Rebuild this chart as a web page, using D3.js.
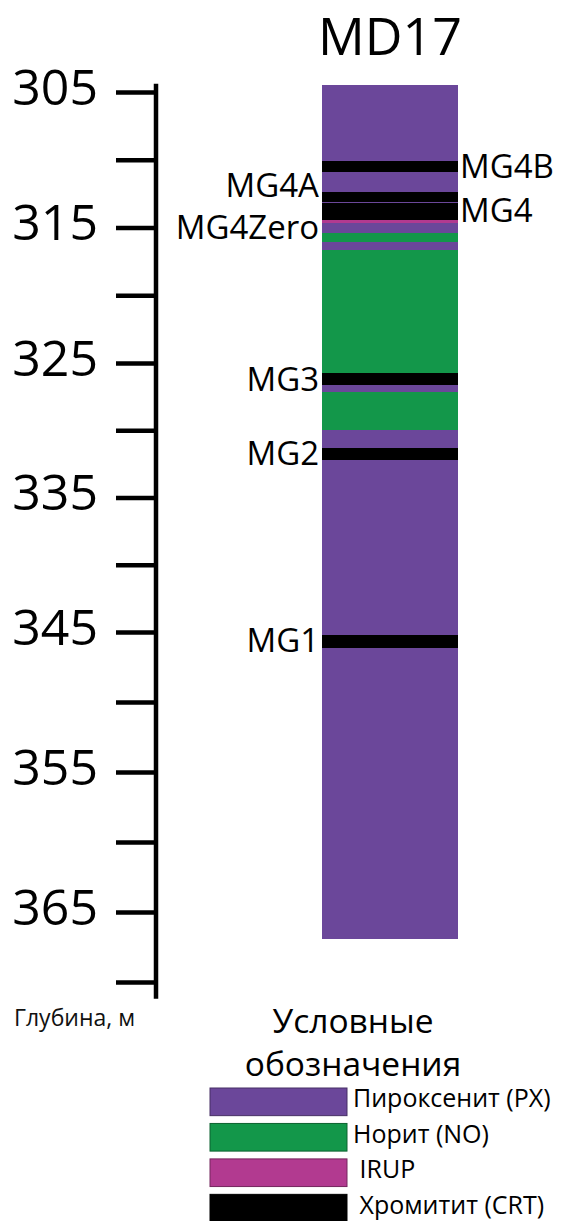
<!DOCTYPE html>
<html>
<head>
<meta charset="utf-8">
<script src="https://cdn.jsdelivr.net/npm/d3@7"></script>
<style>
  html, body { margin: 0; padding: 0; background: #fff; }
  svg { display: block; font-family: "Open Sans", "DejaVu Sans", sans-serif; }
</style>
</head>
<body>
<svg id="chart" width="563" height="1221"></svg>
<script>
// Borehole MD17: lithology column with depth scale
const wellName = "MD17";

// Layer boundaries (depth, m) — consecutive layers share boundaries
const boundaries = [304.5, 310.1, 310.9, 312.4, 313.1, 313.2, 314.45, 314.7, 315.4, 316.05,
                    316.65, 325.75, 326.65, 327.15, 330.0, 331.35, 332.2, 345.2, 346.15, 366.95];
const rocks = ["PX", "CRT", "PX", "CRT", "PX", "CRT", "IRUP", "PX", "NO", "PX",
               "NO", "CRT", "PX", "NO", "PX", "CRT", "PX", "CRT", "PX"];

// Named chromitite seams
const seamNames  = ["MG4B", "MG4A", "MG4", "MG4Zero", "MG3", "MG2", "MG1"];
const seamDepths = [310.5, 311.9, 313.75, 314.95, 326.2, 331.7, 345.6];
const seamSides  = ["right", "left", "right", "left", "left", "left", "left"];

// Depth axis
const tickDepths = d3.range(305, 371, 5);
const tickLabels = [305, 315, 325, 335, 345, 355, 365];
const axisTitle = "Глубина, м";

// Legend
const legendTitle = ["Условные", "обозначения"];
const legendKeys = ["PX", "NO", "IRUP", "CRT"];
const legendNames = ["Пироксенит (PX)", "Норит (NO)", " IRUP", " Хромитит (CRT)"];

const rockColor = d3.scaleOrdinal()
  .domain(["PX", "NO", "IRUP", "CRT"])
  .range(["#6b479a", "#13974a", "#b23a90", "#000000"]);

const svg = d3.select("#chart");
svg.append("rect").attr("width", 563).attr("height", 1221).attr("fill", "#fff");

// The drawn depth scale is slightly non-uniform, so it is piecewise linear
const y = d3.scaleLinear()
  .domain([305, 325, 345, 365])
  .range([92, 363, 632, 912]);

const x = d3.scaleBand().domain([wellName]).range([322, 458]).padding(0);

// ---- depth axis ----
const axisX = 156;
const axisG = svg.append("g").attr("transform", `translate(${axisX},0)`);
axisG.call(
  d3.axisLeft(y)
    .tickValues(tickDepths)
    .tickSize(40)
    .tickPadding(18)
    .tickFormat(d => tickLabels.includes(d) ? d : "")
);
axisG.select(".domain").remove();
axisG.selectAll(".tick line").attr("stroke", "#000").attr("stroke-width", 4.5);
axisG.selectAll(".tick text")
  .attr("font-size", 50)
  .attr("font-family", "Open Sans")
  .attr("fill", "#000")
  .attr("dy", "0.24em");
axisG.append("line")
  .attr("x1", 0).attr("x2", 0)
  .attr("y1", y(304.4)).attr("y2", y(371.2))
  .attr("stroke", "#000").attr("stroke-width", 4.5);

svg.append("text")
  .attr("x", 14).attr("y", 1026)
  .attr("font-size", 23)
  .attr("fill", "#111")
  .text(axisTitle);

// ---- lithology column ----
const layers = rocks.map((r, i) => ({ rock: r, top: boundaries[i], bottom: boundaries[i + 1] }));
svg.append("g").selectAll("rect")
  .data(layers)
  .join("rect")
  .attr("x", x(wellName))
  .attr("width", x.bandwidth())
  .attr("y", d => y(d.top))
  .attr("height", d => y(d.bottom) - y(d.top))
  .attr("fill", d => rockColor(d.rock))
  .attr("shape-rendering", "crispEdges");

svg.append("text")
  .attr("x", x(wellName) + x.bandwidth() / 2)
  .attr("y", 55)
  .attr("text-anchor", "middle")
  .attr("font-size", 52)
  .attr("fill", "#000")
  .text(wellName);

// ---- seam labels ----
const seams = seamNames.map((n, i) => ({ name: n, depth: seamDepths[i], side: seamSides[i] }));
svg.append("g").selectAll("text")
  .data(seams)
  .join("text")
  .attr("x", d => d.side === "left" ? x(wellName) - 3 : x(wellName) + x.bandwidth() + 2)
  .attr("y", d => y(d.depth))
  .attr("dy", "0.36em")
  .attr("text-anchor", d => d.side === "left" ? "end" : "start")
  .attr("font-size", 33)
  .attr("fill", "#000")
  .text(d => d.name);

// ---- legend ----
svg.append("g").selectAll("text")
  .data(legendTitle)
  .join("text")
  .attr("x", 353)
  .attr("y", (d, i) => 1033 + i * 43)
  .attr("text-anchor", "middle")
  .attr("font-size", 33.5)
  .attr("fill", "#000")
  .text(d => d);

const legendRow = d3.scaleBand().domain(legendKeys).range([1088, 1222]).paddingInner(0.22);
const legend = svg.append("g").selectAll("g")
  .data(legendKeys)
  .join("g")
  .attr("transform", d => `translate(0,${legendRow(d)})`);
legend.append("rect")
  .attr("x", 210)
  .attr("width", 137)
  .attr("height", legendRow.bandwidth())
  .attr("fill", d => rockColor(d))
  .attr("stroke", d => d3.color(rockColor(d)).darker(1.2))
  .attr("stroke-width", 1);
legend.append("text")
  .attr("x", 353)
  .attr("y", legendRow.bandwidth() / 2)
  .attr("dy", "0.22em")
  .attr("font-size", 25)
  .attr("fill", "#000")
  .attr("xml:space", "preserve")
  .style("white-space", "pre")
  .text((d, i) => legendNames[i]);
</script>
</body>
</html>
